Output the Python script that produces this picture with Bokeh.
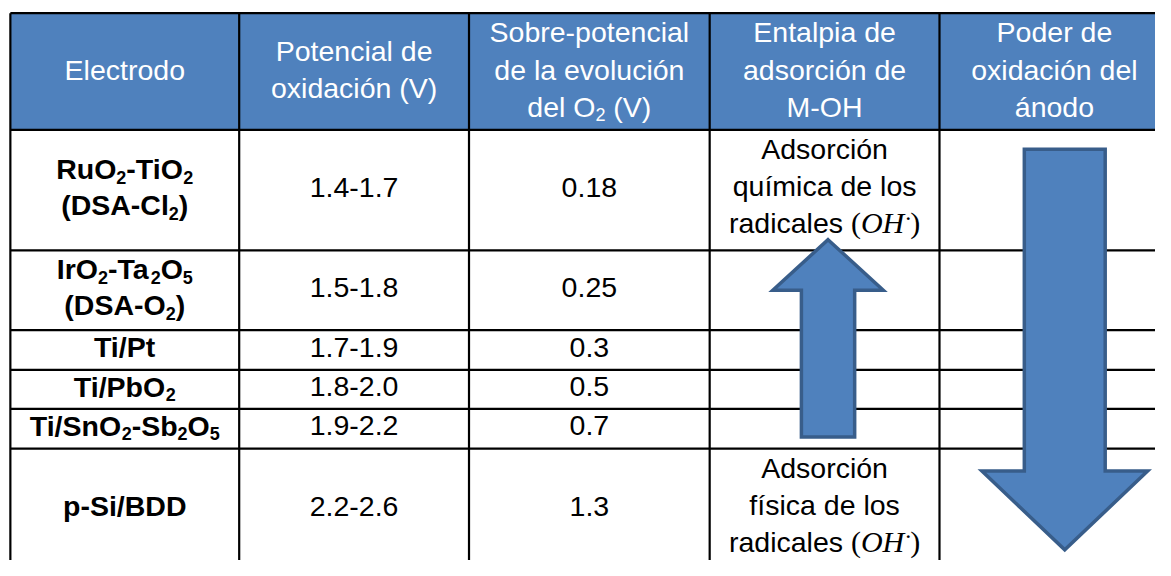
from bokeh.plotting import figure
from bokeh.models import Range1d, ColumnDataSource
from bokeh.embed import file_html
from bokeh.resources import INLINE

# ---------------- data (table contents) ----------------
headers = [
    "Electrodo",
    "Potencial de\noxidación (V)",
    "Sobre-potencial\nde la evolución\ndel O_2 (V)",
    "Entalpia de\nadsorción de\nM-OH",
    "Poder de\noxidación del\nánodo",
]
electrodos = [
    "RuO_2-TiO_2\n(DSA-Cl_2)",
    "IrO_2-Ta_2O_5\n(DSA-O_2)",
    "Ti/Pt",
    "Ti/PbO_2",
    "Ti/SnO_2-Sb_2O_5",
    "p-Si/BDD",
]
potencial = ["1.4-1.7", "1.5-1.8", "1.7-1.9", "1.8-2.0", "1.9-2.2", "2.2-2.6"]
sobrepotencial = ["0.18", "0.25", "0.3", "0.5", "0.7", "1.3"]
entalpia_quimica = "Adsorción\nquímica de los\nradicales {OH}"
entalpia_fisica = "Adsorción\nfísica de los\nradicales {OH}"

# ---------------- layout / style ----------------
PW, PH = 1155, 560          # canvas size in pixels
VW, VH = 1171, 576          # layout coordinate space
XS = PW / VW                # pixels per layout unit (horizontal)
YS = PH / VH                # pixels per layout unit (vertical)
COL_EDGES = [10, 242, 475, 719, 952, 1185]
ROW_EDGES = [13, 133, 257, 339, 380, 420, 461, 585]
HEADER_BLUE = "#4F81BD"
ARROW_EDGE = "#385D8A"
SANS = "Liberation Sans"
SERIF = "Liberation Serif"
FS = 28.5
SERIF_FS = 30
SUB_FS = 18
SUB_DY = 4.5
HEAD_LH = 38.5
BODY_LH = 37.0
COL4_LH = 38.0
BASE_FIX = 0.34             # renderer baseline correction (fraction of font size)

W_REG = {' ': 278, '(': 333, ')': 333, '-': 333, '.': 278, '/': 278,
         'A': 667, 'B': 667, 'C': 722, 'D': 722, 'E': 667, 'H': 722, 'I': 278,
         'M': 833, 'O': 778, 'P': 667, 'R': 722, 'S': 667, 'T': 611, 'V': 667,
         'a': 556, 'b': 556, 'c': 500, 'd': 556, 'e': 556, 'f': 278, 'i': 222,
         'l': 222, 'm': 833, 'n': 556, 'o': 556, 'p': 556, 'q': 556, 'r': 333,
         's': 500, 't': 278, 'u': 556, 'v': 500, 'x': 500, 'á': 556, 'í': 278,
         'ó': 556, 'ú': 556}
W_BOLD = {' ': 278, '(': 333, ')': 333, '-': 333, '.': 278, '/': 278,
          'A': 722, 'B': 722, 'C': 722, 'D': 722, 'I': 278, 'O': 778, 'P': 667,
          'R': 722, 'S': 667, 'T': 611, 'a': 556, 'b': 611, 'i': 278, 'l': 278,
          'n': 611, 'p': 611, 'r': 389, 't': 333, 'u': 611}
W_SERIF = {'(': 333, ')': 333, '·': 250, 'O': 722, 'H': 722}


def run_width(text, font, style, size):
    """width in layout units"""
    if font == SERIF:
        table = W_SERIF
    elif style == "bold":
        table = W_BOLD
    else:
        table = W_REG
    return sum(table.get(c, 556) for c in text) * size / 1000.0 / XS


def parse(line, bold):
    runs = []
    buf = ""
    style = "bold" if bold else "normal"
    i = 0
    while i < len(line):
        if line[i] == "_":
            if buf:
                runs.append((buf, SANS, style, FS, 0))
                buf = ""
            runs.append((line[i + 1], SANS, style, SUB_FS, SUB_DY))
            i += 2
            continue
        if line.startswith("{OH}", i):
            if buf:
                runs.append((buf, SANS, style, FS, 0))
                buf = ""
            runs += [("(", SERIF, "normal", SERIF_FS, 0),
                     ("OH", SERIF, "italic", SERIF_FS, 0),
                     ("·", SERIF, "normal", 24, -7),
                     (")", SERIF, "normal", SERIF_FS, 0)]
            i += 4
            continue
        buf += line[i]
        i += 1
    if buf:
        runs.append((buf, SANS, style, FS, 0))
    return runs


cols = {k: [] for k in ("x", "y", "text", "font", "style", "size", "color")}


def place(label, cx, baselines, bold, color):
    for line, base in zip(label.split("\n"), baselines):
        runs = parse(line, bold)
        total = sum(run_width(t, f, s, z) for t, f, s, z, _ in runs)
        x = cx - total / 2.0
        for t, f, s, z, dy in runs:
            stripped = t.lstrip(" ")
            lead = len(t) - len(stripped)
            if lead:
                x += run_width(" " * lead, f, s, z)
            if stripped:
                cols["x"].append(x)
                cols["y"].append(base + dy - BASE_FIX * z / YS)
                cols["text"].append(stripped)
                cols["font"].append(f)
                cols["style"].append(s)
                cols["size"].append(f"{z}px")
                cols["color"].append(color)
            x += run_width(stripped, f, s, z)


def centered_baselines(n, center, offset, lh):
    return [center + offset + (i - (n - 1) / 2.0) * lh for i in range(n)]


col_centers = [(COL_EDGES[i] + COL_EDGES[i + 1]) / 2.0 for i in range(5)]

# header
hc = (ROW_EDGES[0] + ROW_EDGES[1]) / 2.0
for j, h in enumerate(headers):
    n = len(h.split("\n"))
    place(h, col_centers[j], centered_baselines(n, hc, 8, HEAD_LH), False, "#FFFFFF")

# body
for r in range(6):
    rc = (ROW_EDGES[r + 1] + ROW_EDGES[r + 2]) / 2.0
    for j, (lab, bold) in enumerate(((electrodos[r], True), (potencial[r], False),
                                     (sobrepotencial[r], False))):
        n = len(lab.split("\n"))
        place(lab, col_centers[j], centered_baselines(n, rc, 7, BODY_LH), bold, "#000000")

for lab, top in ((entalpia_quimica, ROW_EDGES[1]), (entalpia_fisica, ROW_EDGES[6])):
    n = len(lab.split("\n"))
    place(lab, col_centers[3], [top + 29.7 + i * COL4_LH for i in range(n)], False, "#000000")

# ---------------- figure ----------------
p = figure(width=PW, height=PH, x_range=Range1d(0, VW), y_range=Range1d(VH, 0),
           output_backend="svg", toolbar_location=None, min_border=0,
           x_axis_location=None, y_axis_location=None)
p.grid.visible = False
p.outline_line_color = None
p.background_fill_color = "#FFFFFF"
p.border_fill_color = "#FFFFFF"

# header band
p.quad(left=[COL_EDGES[0]], right=[COL_EDGES[-1]], top=[ROW_EDGES[0]], bottom=[ROW_EDGES[1]],
       fill_color=HEADER_BLUE, line_color=None)

# grid lines
xs = [[COL_EDGES[0], COL_EDGES[-1]] for _ in ROW_EDGES] + [[x, x] for x in COL_EDGES]
ys = [[y, y] for y in ROW_EDGES] + [[ROW_EDGES[0], ROW_EDGES[-1]] for _ in COL_EDGES]
p.multi_line(xs, ys, line_color="#000000", line_width=2.2)

# arrows (decorative, positioned within columns 4 and 5)
up = dict(cx=839, tip=246, head_base=298, head_half=56, shaft_half=27, end=449)
p.patch([up["cx"], up["cx"] + up["head_half"], up["cx"] + up["shaft_half"], up["cx"] + up["shaft_half"],
         up["cx"] - up["shaft_half"], up["cx"] - up["shaft_half"], up["cx"] - up["head_half"]],
        [up["tip"], up["head_base"], up["head_base"], up["end"], up["end"], up["head_base"], up["head_base"]],
        fill_color=HEADER_BLUE, line_color=ARROW_EDGE, line_width=3.5, line_join="miter")

dn = dict(cx=1079, start=153, head_top=484, head_half=84, shaft_half=41, tip=565)
p.patch([dn["cx"] - dn["shaft_half"], dn["cx"] + dn["shaft_half"], dn["cx"] + dn["shaft_half"],
         dn["cx"] + dn["head_half"], dn["cx"], dn["cx"] - dn["head_half"], dn["cx"] - dn["shaft_half"]],
        [dn["start"], dn["start"], dn["head_top"], dn["head_top"], dn["tip"], dn["head_top"], dn["head_top"]],
        fill_color=HEADER_BLUE, line_color=ARROW_EDGE, line_width=3.5, line_join="miter")

# texts
src = ColumnDataSource(cols)
p.text(x="x", y="y", text="text", source=src, text_font="font", text_font_style="style",
       text_font_size="size", text_color="color", text_align="left", text_baseline="alphabetic")

open("out.html", "w").write(file_html(p, INLINE))
